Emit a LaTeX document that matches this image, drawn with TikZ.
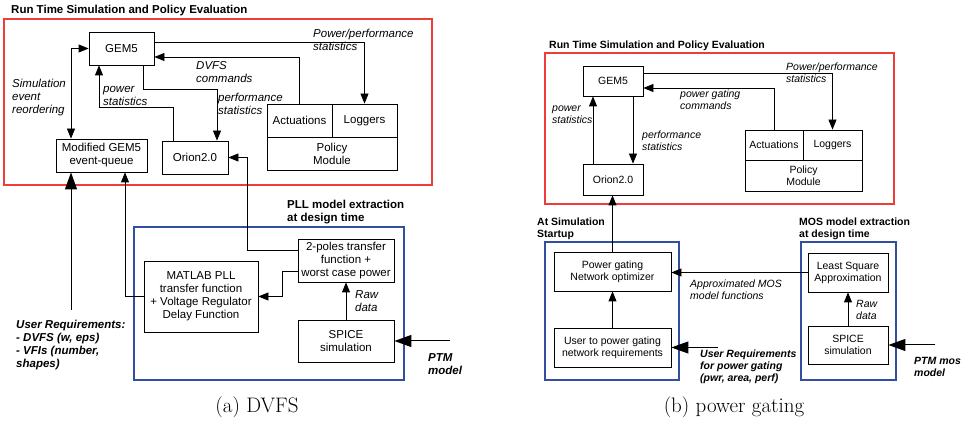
\documentclass[tikz,border=0pt]{standalone}
\usepackage{fontspec}
\setsansfont{Liberation Sans}
\usepackage{tikz}
\usetikzlibrary{arrows.meta}
\definecolor{runtime}{RGB}{238,60,56}
\definecolor{designtime}{RGB}{50,78,160}
\newcommand{\figsize}{\fontsize{11.5}{13}\selectfont}
\tikzset{
  % node options
  block/.style={rectangle,draw,line width=0.8pt,align=center,inner sep=1pt,font=\sffamily\figsize},
  lbl/.style={align=left,anchor=west,inner sep=0pt,font=\sffamily\itshape\figsize},
  heading/.style={lbl,font=\sffamily\bfseries\figsize},
  reqtext/.style={lbl,font=\sffamily\bfseries\itshape\figsize},
  figcaption/.style={inner sep=0pt,font=\fontsize{21}{25}\selectfont},
  % path options
  flow/.style={arrows={-Triangle[length=10pt,width=8pt]},line width=0.8pt},
  flow bidi/.style={flow,arrows={Triangle[length=10pt,width=8pt]-Triangle[length=10pt,width=8pt]}},
  bigflow/.style={arrows={-Triangle[length=17pt,width=12pt]},line width=1pt},
  runframe/.style={draw=runtime,line width=2.5pt},
  designframe/.style={draw=designtime,line width=2.5pt},
}

\begin{document}
\begin{tikzpicture}[x=1pt,y=-1pt]
  \useasboundingbox (0,0) rectangle (962,422);
  % (a) DVFS
  \node[heading] (titleA) at (11,11) {Run Time Simulation and Policy Evaluation};
  \draw[runframe] (4,19) rectangle (432,185);
  \node[block,minimum width=65pt,minimum height=33pt] (gem) at (121.5,48.5) {GEM5};
  \node[block,minimum width=91pt,minimum height=33pt] (queue) at (101.5,155.5) {Modified GEM5\\event-queue};
  \node[block,minimum width=66pt,minimum height=33pt] (orion) at (195,157.5) {Orion2.0};
  \node[block,minimum width=65pt,minimum height=33pt] (act) at (299.5,120.5) {Actuations};
  \node[block,minimum width=65pt,minimum height=33pt] (logger) at (364.5,120.5) {Loggers};
  \node[block,minimum width=130pt,minimum height=33pt] (policy) at (332,153.5) {Policy\\Module};

  \draw[flow] ([yshift=6.5pt]gem.east) -| (logger.north);
  \node[lbl] at (313,40) {Power/performance\\statistics};
  \draw[flow] (act.north) |- ([yshift=-8.5pt]gem.east);
  \node[lbl] at (196,72.5) {DVFS\\commands};
  \draw[flow] ([xshift=21.5pt]gem.south) -- ++(0,24) -| ([xshift=22pt]orion.north);
  \node[lbl] at (218,103.5) {performance\\statistics};
  \draw[flow] ([xshift=-22pt]orion.north) -- ++(0,-33) -| ([xshift=-22.5pt]gem.south);
  \node[lbl] at (103,95.5) {power\\statistics};
  \draw[flow bidi] (gem.west) -| ([xshift=-30.5pt]queue.north);
  \node[lbl] at (12,98) {Simulation\\event\\reordering};

  \node[heading] at (287,212.5) {PLL model extraction\\at design time};
  \draw[designframe] (134,227) rectangle (404,380);
  \node[block,minimum width=96pt,minimum height=43pt] (poles) at (346,260.5) {2-poles transfer\\function +\\worst case power};
  \node[block,minimum width=114pt,minimum height=71pt] (matlab) at (201,296.5) {MATLAB PLL\\transfer function\\+ Voltage Regulator\\Delay Function};
  \node[block,minimum width=96pt,minimum height=42pt] (spice) at (346,341) {SPICE\\simulation};

  \draw[flow] ([yshift=10.5pt]poles.west) -| ([xshift=19pt]orion.east) -- (orion.east);
  \draw[flow] ([yshift=-10.5pt]poles.west) -- ++(-15,0) |- (matlab.east);
  \draw[flow] (matlab.west) -| ([xshift=23.5pt]queue.south);
  \draw[flow] (spice.north) -- (poles.south);
  \node[lbl] at (355,301.5) {Raw\\data};
  \coordinate (ptm) at (450,341);
  \draw[bigflow] (ptm) -- (spice.east);
  \node[reqtext] at (428,364) {PTM\\model};
  \coordinate (userreq) at (71,310);
  \draw[bigflow] (userreq) -- (userreq |- queue.south);
  \node[reqtext] at (16,345) {User Requirements:\\- DVFS (w, eps)\\- VFIs (number,\\shapes)};
  \node[figcaption] at (257,407) {(a) DVFS};

  % (b) power gating
  \renewcommand{\figsize}{\fontsize{10.5}{12}\selectfont}
  \node[heading] (titleB) at (549,46) {Run Time Simulation and Policy Evaluation};
  \draw[runframe] (545,53) rectangle (894,204);
  \node[block,minimum width=60pt,minimum height=30pt] (gemB) at (613,81) {GEM5};
  \node[block,minimum width=60pt,minimum height=31pt] (orionB) at (613,179.5) {Orion2.0};
  \node[block,minimum width=58pt,minimum height=30pt] (actB) at (774,145) {Actuations};
  \node[block,minimum width=59pt,minimum height=30pt] (loggerB) at (832.5,145) {Loggers};
  \node[block,minimum width=117pt,minimum height=31pt] (policyB) at (803.5,175.5) {Policy\\Module};

  \draw[flow] ([yshift=8pt]gemB.east) -| (loggerB.north);
  \node[lbl] at (786,73) {Power/performance\\statistics};
  \draw[flow] (actB.north) |- ([yshift=-7pt]gemB.east);
  \node[lbl] at (680,100) {power gating\\commands};
  \draw[flow] ([xshift=20pt]gemB.south) -- ([xshift=20pt]orionB.north);
  \node[lbl] at (642,141) {performance\\statistics};
  \draw[flow] ([xshift=-20pt]orionB.north) -- ([xshift=-20pt]gemB.south);
  \node[lbl] at (552,114.5) {power\\statistics};

  \node[heading] at (537,228.5) {At Simulation\\Startup};
  \draw[designframe] (545,242) rectangle (679,380);
  \node[block,minimum width=117pt,minimum height=39pt] (optimizer) at (612.5,271.5) {Power gating\\Network optimizer};
  \node[block,minimum width=117pt,minimum height=39pt] (userB) at (612.5,347.5) {User to power gating\\network requirements};
  \draw[flow] (userB.north) -- (optimizer.south);
  \draw[flow] (optimizer.north) -- (optimizer.north |- orionB.south);

  \node[heading] at (799,228.5) {MOS model extraction\\at design time};
  \draw[designframe] (801,242) rectangle (896,380);
  \node[block,minimum width=80pt,minimum height=39pt] (lsq) at (848,272.5) {Least Square\\Approximation};
  \node[block,minimum width=80pt,minimum height=38pt] (spiceB) at (848,345) {SPICE\\simulation};
  \draw[flow] (spiceB.north) -- (lsq.south);
  \node[lbl] at (856,310) {Raw\\data};
  \draw[flow] (lsq.west) -- (lsq.west -| optimizer.east);
  \node[lbl] at (690,289.5) {Approximated MOS\\model functions};
  \coordinate (userreqB) at (718,347.5);
  \draw[bigflow] (userreqB) -- (userB.east);
  \node[reqtext] at (700,367) {User Requirements\\for power gating\\(pwr, area, perf)};
  \coordinate (ptmB) at (935,345);
  \draw[bigflow] (ptmB) -- (spiceB.east);
  \node[reqtext] at (914,366.5) {PTM mos\\model};
  \node[figcaption] at (734,407) {(b) power gating};
\end{tikzpicture}
\end{document}
